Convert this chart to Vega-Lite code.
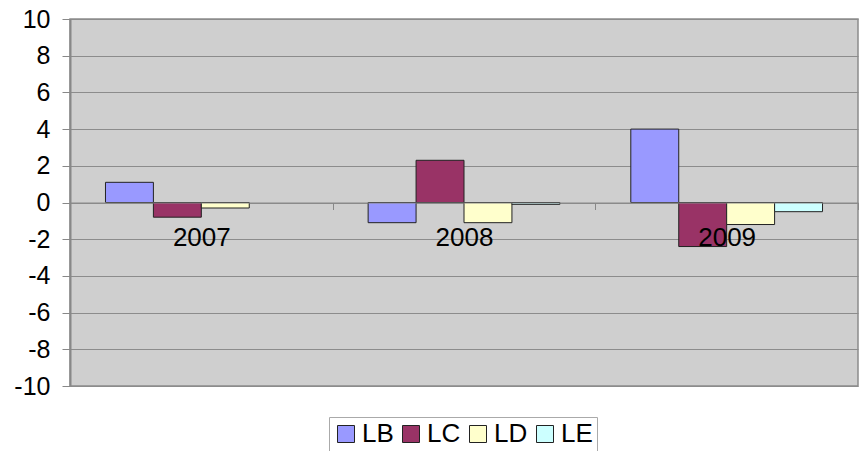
{
  "$schema": "https://vega.github.io/schema/vega-lite/v6.json",
  "autosize": {"type": "none"},
  "width": 788,
  "height": 367,
  "padding": {"left": 70, "top": 19, "right": 6, "bottom": 65},
  "background": "white",
  "config": {
    "view": {"fill": "#cfcfcf", "stroke": "#8c8c8c", "strokeWidth": 1.5},
    "font": "Liberation Sans"
  },
  "data": {
    "values": [
      {"year": "2007", "series": "LB", "value": 1.1},
      {"year": "2007", "series": "LC", "value": -0.8},
      {"year": "2007", "series": "LD", "value": -0.3},
      {"year": "2008", "series": "LB", "value": -1.1},
      {"year": "2008", "series": "LC", "value": 2.3},
      {"year": "2008", "series": "LD", "value": -1.1},
      {"year": "2008", "series": "LE", "value": -0.1},
      {"year": "2009", "series": "LB", "value": 4.0},
      {"year": "2009", "series": "LC", "value": -2.4},
      {"year": "2009", "series": "LD", "value": -1.2},
      {"year": "2009", "series": "LE", "value": -0.5}
    ]
  },
  "mark": {"type": "bar", "stroke": "#222", "strokeWidth": 1},
  "encoding": {
    "x": {
      "field": "year",
      "type": "nominal",
      "scale": {"paddingInner": 0, "paddingOuter": 0},
      "axis": {
        "title": null,
        "labelAngle": 0,
        "offset": -183.5,
        "zindex": 1,
        "tickBand": "extent",
        "domainColor": "#888",
        "tickColor": "#888",
        "tickSize": 7,
        "labelPadding": 15,
        "labelFontSize": 26,
        "labelColor": "black",
        "grid": false
      }
    },
    "xOffset": {
      "field": "series",
      "type": "nominal",
      "scale": {"domain": ["LB", "LC", "LD", "LE"], "paddingInner": 0, "paddingOuter": 0.74}
    },
    "y": {
      "field": "value",
      "type": "quantitative",
      "scale": {"domain": [-10, 10], "nice": false, "zero": false},
      "axis": {
        "title": null,
        "values": [-10, -8, -6, -4, -2, 0, 2, 4, 6, 8, 10],
        "labelExpr": "datum.value < 0 ? '-' + abs(datum.value) : '' + datum.value",
        "grid": true,
        "gridColor": "#8c8c8c",
        "domainColor": "#888",
        "domainWidth": 2,
        "tickColor": "#888",
        "tickSize": 8,
        "labelPadding": 12,
        "labelFontSize": 25,
        "labelColor": "black"
      }
    },
    "color": {
      "field": "series",
      "type": "nominal",
      "scale": {"domain": ["LB", "LC", "LD", "LE"], "range": ["#9999ff", "#993366", "#ffffcc", "#ccffff"]},
      "legend": {
        "title": null,
        "orient": "none",
        "direction": "horizontal",
        "columns": 4,
        "legendX": 259,
        "legendY": 398,
        "padding": 4,
        "strokeColor": "#aaa",
        "symbolType": "square",
        "symbolSize": 289,
        "symbolStrokeColor": "#222",
        "symbolStrokeWidth": 1,
        "symbolOpacity": 1,
        "labelFontSize": 26,
        "labelColor": "black",
        "labelOffset": 3,
        "columnPadding": 4
      }
    }
  }
}
